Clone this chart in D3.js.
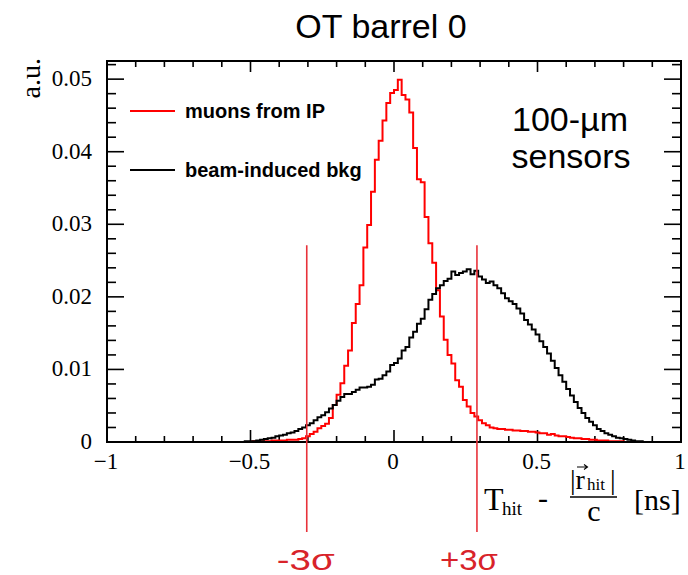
<!DOCTYPE html>
<html><head><meta charset="utf-8">
<script src="https://cdn.jsdelivr.net/npm/d3@7/dist/d3.min.js"></script>
<style>body{margin:0;background:#fff}svg{display:block}</style>
</head><body>
<script>
// ---- data ----
const xRange = [-1, 1];
const nBins = 150;
const muons = [
0,0,0,0,0,0,0,0,0,0, 0,0,0,0,0,0,0,0,0,0, 0,0,0,0,0,0,0,0,0,0, 0,0,0,0,0,0,0,0,
0.0001,0.0001,0.0001,0.0001,0.0001,0.0002,0.0002,0.0002,0.0002,0.0003,0.0003,0.0003,
0.0004,0.0005,0.0008,0.0011,0.0014,0.0019,0.0022,0.0025,0.0033,0.0051,
0.0065,0.0081,0.0105,0.0126,0.0164,0.0190,0.0216,0.0268,0.0299,0.0345,
0.0389,0.0415,0.0443,0.0467,0.0481,0.0485,0.0499,0.0478,0.0472,0.0454,
0.0405,0.0362,0.0358,0.0310,0.0274,0.0247,0.0209,0.0173,0.0141,0.0120,
0.0108,0.0085,0.0076,0.0058,0.0049,0.0040,0.0035,0.0030,0.0026,0.0023,
0.0020,0.0019,0.0018,0.0018,0.0017,0.0017,0.0016,0.0016,0.0015,0.0015,
0.0014,0.0014,0.0013,0.0012,0.0012,0.0010,0.0011,0.0009,0.0008,0.0008,
0.0007,0.0006,0.0005,0.0005,0.0004,0.0004,0.0003,0.0003,0.0002,0.0002,
0.0002,0.0001,0.0001,0.0001,0.0001,0,0,0,0,0,
0,0,0,0,0,0,0,0,0,0];
const bkg = [
0,0,0,0,0,0,0,0,0,0, 0,0,0,0,0,0,0,0,0,0, 0,0,0,0,0,0,0,0,0,0, 0,0,0,0,0,0,
0.0001,0.0001,0.0001,0.0002,
0.0003,0.0004,0.0005,0.0006,0.0008,0.0009,0.0010,0.0012,0.0013,0.0015,
0.0018,0.0020,0.0023,0.0026,0.0030,0.0034,0.0037,0.0041,0.0046,0.0051,
0.0057,0.0062,0.0066,0.0066,0.0069,0.0072,0.0075,0.0075,0.0076,0.0079,
0.0086,0.0087,0.0092,0.0097,0.0106,0.0109,0.0115,0.0126,0.0131,0.0144,
0.0152,0.0163,0.0170,0.0183,0.0196,0.0204,0.0212,0.0216,0.0222,0.0225,
0.0235,0.0230,0.0233,0.0235,0.0238,0.0231,0.0236,0.0228,0.0224,0.0219,
0.0221,0.0216,0.0212,0.0205,0.0198,0.0194,0.0190,0.0184,0.0177,0.0168,
0.0162,0.0155,0.0148,0.0139,0.0131,0.0122,0.0112,0.0102,0.0092,0.0083,
0.0073,0.0064,0.0055,0.0047,0.0040,0.0033,0.0028,0.0023,0.0018,0.0015,
0.0012,0.0010,0.0008,0.0006,0.0005,0.0004,0.0003,0.0002,0.0001,0.0001,
0,0,0,0,0,0,0,0,0,0];
const yMax = 0.0525;
const xMajorTicks = [-1, -0.5, 0, 0.5, 1];
const xTickLabels = ["\u22121", "\u22120.5", "0", "0.5", "1"];
const yMajorTicks = [0, 0.01, 0.02, 0.03, 0.04, 0.05];
const yTickLabels = ["0", "0.01", "0.02", "0.03", "0.04", "0.05"];
const sigmaCuts = [-0.304, 0.289];
const sigmaLabels = ["-3\u03c3", "+3\u03c3"];
const sigmaSpan = [0.0271, -0.0124];
const seriesNames = ["muons from IP", "beam-induced bkg"];
const seriesColors = ["#ff0000", "#000000"];

// ---- layout ----
const W = 688, H = 575;
const L = 107, R = 681, T = 61, B = 442;
const svg = d3.select("body").append("svg").attr("width", W).attr("height", H);
const x = d3.scaleLinear().domain(xRange).range([L, R]);
const y = d3.scaleLinear().domain([0, yMax]).range([B, T]);
const edges = d3.range(nBins + 1).map(i => xRange[0] + i * (xRange[1] - xRange[0]) / nBins);

// ticks
const xMinor = d3.range(-10, 11).map(i => i / 10);
const yMinor = d3.range(0, 27).map(i => i * 0.002).filter(v => v <= yMax);
const tg = svg.append("g").attr("stroke", "#000").attr("stroke-width", 1.6);
xMinor.forEach(v => {
  const major = Math.abs(v * 2 - Math.round(v * 2)) < 1e-9;
  tg.append("line").attr("x1", x(v)).attr("x2", x(v)).attr("y1", B).attr("y2", B - (major ? 12 : 6));
  tg.append("line").attr("x1", x(v)).attr("x2", x(v)).attr("y1", T).attr("y2", T + (major ? 11 : 6));
});
yMinor.forEach(v => {
  const major = Math.abs(v * 100 - Math.round(v * 100)) < 1e-9;
  tg.append("line").attr("x1", L).attr("x2", L + (major ? 17 : 9)).attr("y1", y(v)).attr("y2", y(v));
  tg.append("line").attr("x1", R).attr("x2", R - (major ? 17 : 9)).attr("y1", y(v)).attr("y2", y(v));
});

// histograms
function stepPath(vals) {
  const pts = [];
  vals.forEach((v, i) => { pts.push([edges[i], v]); pts.push([edges[i + 1], v]); });
  return d3.line().x(d => x(d[0])).y(d => y(d[1]))(pts);
}
[muons, bkg].forEach((vals, i) => {
  svg.append("path").attr("d", stepPath(vals)).attr("fill", "none")
    .attr("stroke", seriesColors[i]).attr("stroke-width", 2).attr("stroke-linejoin", "miter");
});

// frame
svg.append("rect").attr("x", L).attr("y", T).attr("width", R - L).attr("height", B - T)
  .attr("fill", "none").attr("stroke", "#000").attr("stroke-width", 2);

// tick labels
const serif = "'Liberation Serif','Times New Roman',serif";
const sans = "'Liberation Sans',Arial,Helvetica,sans-serif";
xMajorTicks.forEach((v, i) => {
  svg.append("text").attr("x", x(v) - 1).attr("y", 469).attr("text-anchor", "middle")
    .attr("font-family", serif).attr("font-size", 23).text(xTickLabels[i]);
});
yMajorTicks.forEach((v, i) => {
  svg.append("text").attr("x", 92).attr("y", y(v) + 7).attr("text-anchor", "end")
    .attr("font-family", serif).attr("font-size", 23).text(yTickLabels[i]);
});

// y title
svg.append("text").attr("transform", "translate(40,58) rotate(-90)").attr("text-anchor", "end")
  .attr("font-family", serif).attr("font-size", 28).text("a.u.");

// x title
const xt = svg.append("g").attr("font-family", serif).attr("fill", "#000");
xt.append("text").attr("x", 484).attr("y", 510).attr("font-size", 32).text("T");
xt.append("text").attr("x", 502).attr("y", 515).attr("font-size", 19).text("hit");
xt.append("text").attr("x", 538).attr("y", 508).attr("font-size", 30).text("-");
xt.append("text").attr("x", 570).attr("y", 489).attr("font-size", 28).text("|r");
// vector arrow over r
xt.append("path").attr("d", "M577,467 H587 M584,464.5 L587.5,467 L584,469.5")
  .attr("fill", "none").attr("stroke", "#000").attr("stroke-width", 1.1);
xt.append("text").attr("x", 587).attr("y", 490).attr("font-size", 17).text("hit");
xt.append("text").attr("x", 610).attr("y", 489).attr("font-size", 28).text("|");
xt.append("line").attr("x1", 570).attr("x2", 617).attr("y1", 497).attr("y2", 497).attr("stroke", "#000").attr("stroke-width", 1.5);
xt.append("text").attr("x", 594).attr("y", 521).attr("text-anchor", "middle").attr("font-size", 30).text("c");
xt.append("text").attr("x", 634).attr("y", 510).attr("font-size", 30).text("[ns]");

// title
svg.append("text").attr("x", 381).attr("y", 38).attr("text-anchor", "middle")
  .attr("font-family", sans).attr("font-size", 34).text("OT barrel 0");

// sensors text
svg.append("text").attr("x", 570).attr("y", 131).attr("text-anchor", "middle")
  .attr("font-family", sans).attr("font-size", 34).text("100-\u00b5m");
svg.append("text").attr("x", 571).attr("y", 168).attr("text-anchor", "middle")
  .attr("font-family", sans).attr("font-size", 34).text("sensors");

// legend
const legY = [111, 170];
seriesNames.forEach((n, i) => {
  svg.append("line").attr("x1", 130).attr("x2", 175).attr("y1", legY[i]).attr("y2", legY[i])
    .attr("stroke", seriesColors[i]).attr("stroke-width", 2);
  svg.append("text").attr("x", 185).attr("y", legY[i] + 7).attr("font-family", sans)
    .attr("font-weight", "bold").attr("font-size", 20).text(n);
});

// sigma lines
sigmaCuts.forEach((v, i) => {
  svg.append("line").attr("x1", x(v)).attr("x2", x(v)).attr("y1", y(sigmaSpan[0])).attr("y2", y(sigmaSpan[1]))
    .attr("stroke", "#e8323a").attr("stroke-width", 1.6);
  svg.append("text").attr("x", x(v) - (i === 0 ? 1 : 8)).attr("y", 570).attr("text-anchor", "middle")
    .attr("font-family", sans).attr("font-size", 30).attr("fill", "#d8232a")
    .attr("textLength", 58).attr("lengthAdjust", "spacingAndGlyphs").text(sigmaLabels[i]);
});
</script>
</body></html>
